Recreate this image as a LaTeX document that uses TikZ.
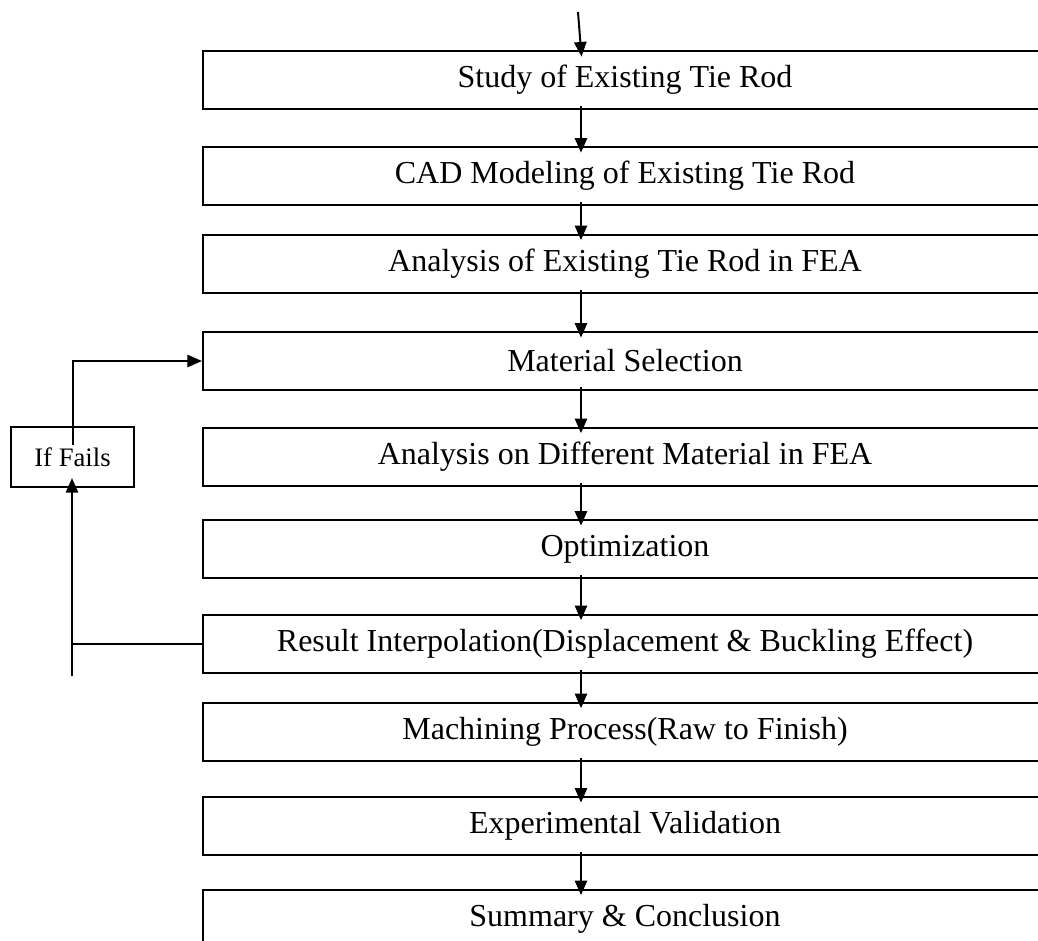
\documentclass[tikz,border=0pt]{standalone}
\usepackage{fontspec}
\setmainfont{Liberation Serif}
\usetikzlibrary{arrows.meta,calc}
\tikzset{
	stage/.style={draw, line width=0.75pt, minimum width=316.5pt, minimum height=21.75pt, inner sep=0pt, font=\fontsize{12}{14}\selectfont},
	flow/.style={line width=0.75pt, -{Triangle[length=5.5pt,width=4.6pt]}},
	link/.style={flow, shorten <=-1.5pt, shorten >=-2.5pt},
}
\begin{document}
\begin{tikzpicture}[x=0.375pt, y=-0.375pt]
			%%%%% START %%%%%
			\useasboundingbox (0, 0) rectangle (1038, 941);
			
			\node[stage] (study) at (625, 80) {Study of Existing Tie Rod};
			\node[stage] (cad) at (625, 176) {CAD Modeling of Existing Tie Rod};
			\node[stage] (existfea) at (625, 263.5) {Analysis of Existing Tie Rod in FEA};
			\node[stage] (material) at (625, 361) {Material Selection};
			\node[stage] (newfea) at (625, 456.5) {Analysis on Different Material in FEA};
			\node[stage] (optim) at (625, 549) {Optimization};
			\node[stage] (result) at (625, 643.5) {Result Interpolation(Displacement \& Buckling Effect)};
			\node[stage] (machining) at (625, 731.5) {Machining Process(Raw to Finish)};
			\node[stage] (valid) at (625, 826) {Experimental Validation};
			\node[stage] (summary) at (625, 918.5) {Summary \& Conclusion};
			
			\node[draw, line width=0.75pt, minimum width=46pt, minimum height=22.5pt, inner sep=0pt, font=\fontsize{10}{12}\selectfont] (fail) at (72.5, 457) {If Fails};
			
			% main line
			\coordinate (lane) at (581, 0);
			\coordinate (entry) at (578, 12);
			\draw[flow, shorten >=-2.5pt] (entry) -- (lane |- study.north);
			\draw[link] (lane |- study.south) -- (lane |- cad.north);
			\draw[link] (lane |- cad.south) -- (lane |- existfea.north);
			\draw[link] (lane |- existfea.south) -- (lane |- material.north);
			\draw[link] (lane |- material.south) -- (lane |- newfea.north);
			\draw[link] (lane |- newfea.south) -- (lane |- optim.north);
			\draw[link] (lane |- optim.south) -- (lane |- result.north);
			\draw[link] (lane |- result.south) -- (lane |- machining.north);
			\draw[link] (lane |- machining.south) -- (lane |- valid.north);
			\draw[link] (lane |- valid.south) -- (lane |- summary.north);
			
			% loop back
			\coordinate (tail) at (72, 676);
			\draw[flow, shorten >=-3.75pt] (tail) -- (tail |- fail.south);
			\draw[line width=0.75pt] (tail |- result.west) -- (result.west);
			\draw[flow] ($(fail.center)+(0, -12)$) |- (material.west);
			
			%%%%% END %%%%%
\end{tikzpicture}
\end{document}
